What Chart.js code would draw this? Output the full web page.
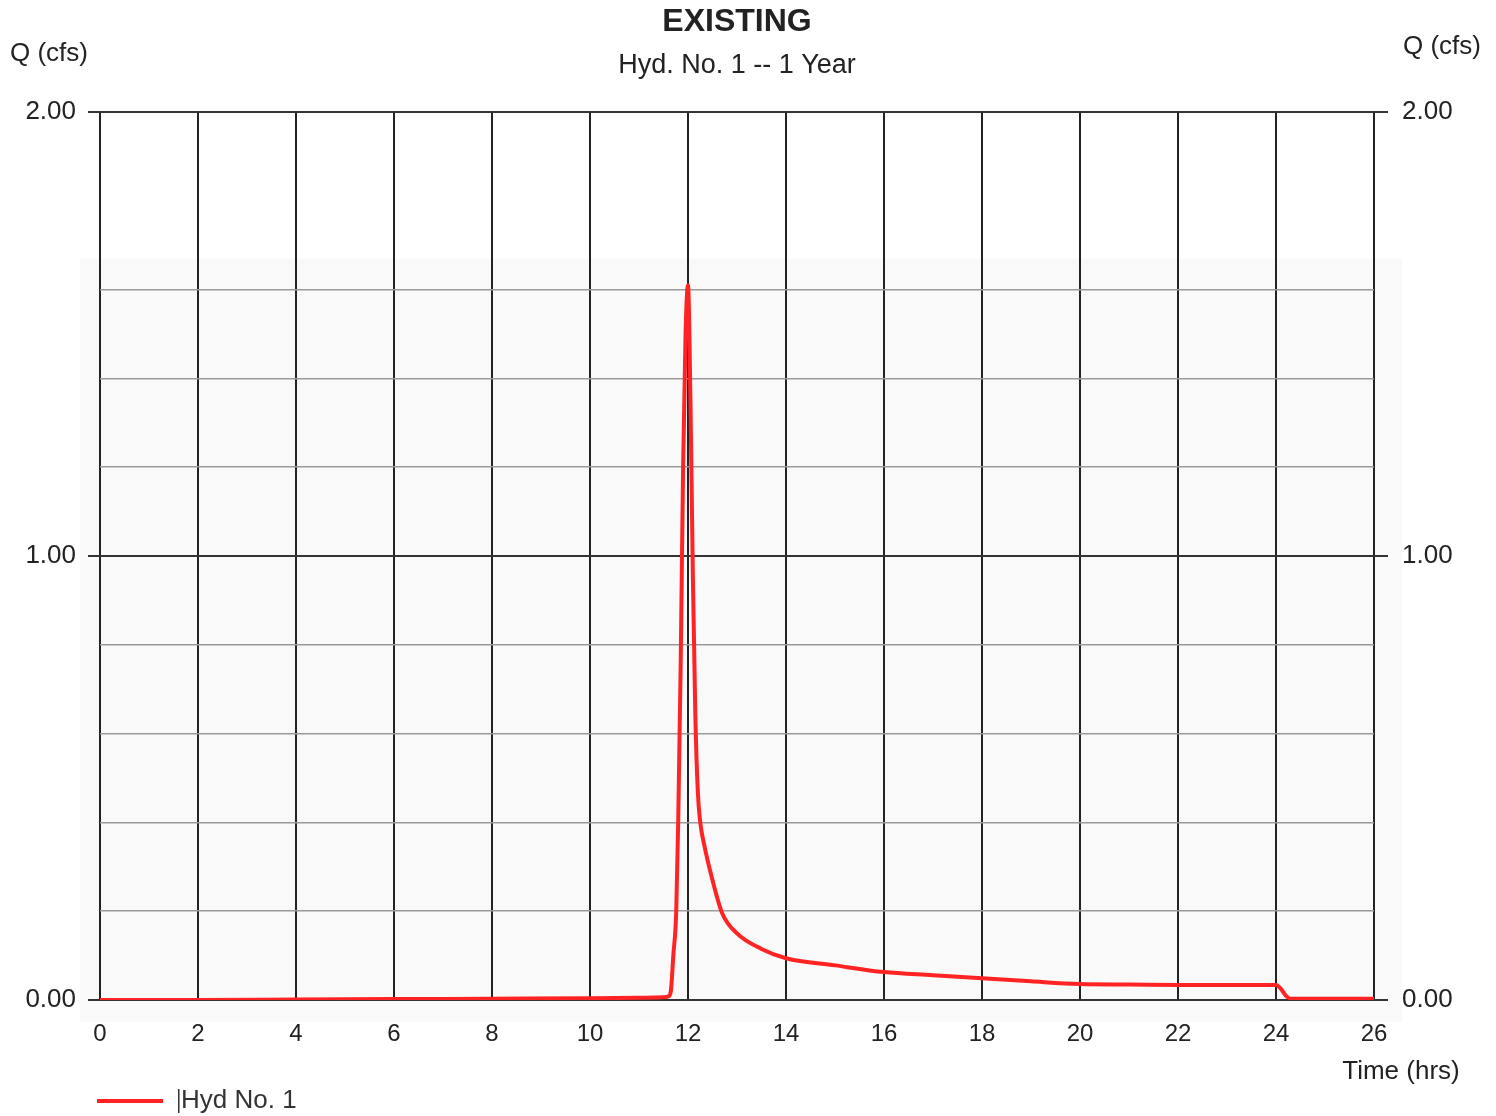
<!DOCTYPE html>
<html>
<head>
<meta charset="utf-8">
<script src="https://cdn.jsdelivr.net/npm/chart.js@4"></script>
<style>
html,body{margin:0;padding:0;background:#fff;}
#wrap{width:1496px;height:1116px;position:relative;}
</style>
</head>
<body>
<div id="wrap"><canvas id="c" width="1496" height="1116"></canvas></div>
<script>
// Data
const timeHrs = [0, 2, 4, 6, 8, 10, 11, 11.5, 11.6, 11.65, 11.7, 11.76, 11.8, 11.85, 11.9, 11.95, 12.0, 12.05, 12.1, 12.15, 12.2, 12.25, 12.33, 12.5, 12.7, 13.0, 13.5, 14, 15, 16, 17, 18, 19, 20, 21, 22, 23, 24, 24.1, 24.2, 24.3, 25, 26];
const flowCfs = [0, 0, 0.001, 0.002, 0.003, 0.004, 0.005, 0.006, 0.008, 0.02, 0.1, 0.2, 0.4, 0.75, 1.2, 1.5, 1.61, 1.35, 0.95, 0.64, 0.47, 0.40, 0.35, 0.27, 0.195, 0.15, 0.115, 0.094, 0.078, 0.063, 0.056, 0.049, 0.042, 0.036, 0.035, 0.034, 0.034, 0.034, 0.025, 0.01, 0.003, 0.003, 0.003];
const yTickLabels = ['0.00', '1.00', '2.00'];
const seriesLabel = 'Hyd No. 1';
const titleText = 'EXISTING';
const subtitleText = 'Hyd. No. 1 -- 1 Year';
const yAxisTitle = 'Q (cfs)';
const xAxisTitle = 'Time (hrs)';

const FONT = '"Liberation Sans", Arial, sans-serif';
const isMajor = v => Math.abs(v - Math.round(v)) < 1e-6;

const points = timeHrs.map((t, i) => ({x: t, y: flowCfs[i]}));

const bgPlugin = {
  id: 'bg',
  beforeDraw(chart) {
    const ctx = chart.ctx;
    const y = chart.scales.y;
    const top = y.getPixelForValue(1.67);
    ctx.save();
    ctx.fillStyle = '#f9f9f9';
    ctx.fillRect(80, top, 1402 - 80, 1022 - top);
    ctx.restore();
  }
};

const textPlugin = {
  id: 'texts',
  afterDraw(chart) {
    const ctx = chart.ctx;
    ctx.save();
    ctx.fillStyle = '#222';
    ctx.textBaseline = 'middle';
    ctx.font = 'bold 32px ' + FONT;
    ctx.textAlign = 'center';
    ctx.fillText(titleText, 737, 22);
    ctx.font = '27px ' + FONT;
    ctx.fillText(subtitleText, 737, 66);
    ctx.font = '26px ' + FONT;
    ctx.textAlign = 'left';
    ctx.fillText(yAxisTitle, 10, 54);
    ctx.fillText(yAxisTitle, 1403, 47);
    ctx.font = '26px ' + FONT;
    ctx.textAlign = 'center';
    ctx.fillText(xAxisTitle, 1401, 1072);
    // legend
    const ds = chart.data.datasets[0];
    ctx.strokeStyle = ds.borderColor;
    ctx.lineWidth = 4;
    ctx.beginPath();
    ctx.moveTo(97, 1101);
    ctx.lineTo(163, 1101);
    ctx.stroke();
    ctx.fillStyle = '#333';
    ctx.fillRect(178, 1089, 1.5, 24);
    ctx.font = '26px ' + FONT;
    ctx.textAlign = 'left';
    ctx.fillText(ds.label, 181, 1101);
    ctx.restore();
  }
};

function yTickCb(v) {
  if (!isMajor(v)) return '';
  return yTickLabels[Math.round(v)];
}

new Chart(document.getElementById('c'), {
  type: 'line',
  data: {
    datasets: [{
      label: seriesLabel,
      data: points,
      borderColor: '#ff2323',
      borderWidth: 4,
      pointRadius: 0,
      cubicInterpolationMode: 'monotone',
      fill: false
    }]
  },
  options: {
    responsive: false,
    animation: false,
    events: [],
    layout: {padding: {top: 112, left: 0, right: 0, bottom: 0}},
    plugins: {legend: {display: false}, tooltip: {enabled: false}, title: {display: false}},
    scales: {
      x: {
        type: 'linear', min: 0, max: 26,
        border: {display: false},
        ticks: {stepSize: 2, color: '#222', font: {family: FONT, size: 24}, padding: 20, maxRotation: 0},
        grid: {color: '#222', lineWidth: 2, drawTicks: false},
        afterFit(s) { s.height = 116; }
      },
      y: {
        type: 'linear', position: 'left', min: 0, max: 2,
        border: {display: false},
        ticks: {stepSize: 0.2, callback: yTickCb, color: '#222', font: {family: FONT, size: 26}, padding: 12, autoSkip: false},
        grid: {
          tickLength: 12,
          color: c => isMajor(c.tick.value) ? '#333' : (c.tick.value > 1.7 ? 'rgba(0,0,0,0)' : '#9a9a9a'),
          lineWidth: c => isMajor(c.tick.value) ? 2 : 1.5,
          tickColor: c => isMajor(c.tick.value) ? '#333' : 'rgba(0,0,0,0)'
        },
        afterFit(s) { s.width = 100; }
      },
      y2: {
        type: 'linear', position: 'right', min: 0, max: 2,
        border: {display: false},
        ticks: {stepSize: 0.2, callback: yTickCb, color: '#222', font: {family: FONT, size: 26}, padding: 14, autoSkip: false},
        grid: {
          drawOnChartArea: false,
          tickLength: 14,
          lineWidth: 2,
          tickColor: c => isMajor(c.tick.value) ? '#333' : 'rgba(0,0,0,0)'
        },
        afterFit(s) { s.width = 122; }
      }
    }
  },
  plugins: [bgPlugin, textPlugin]
});
</script>
</body>
</html>
